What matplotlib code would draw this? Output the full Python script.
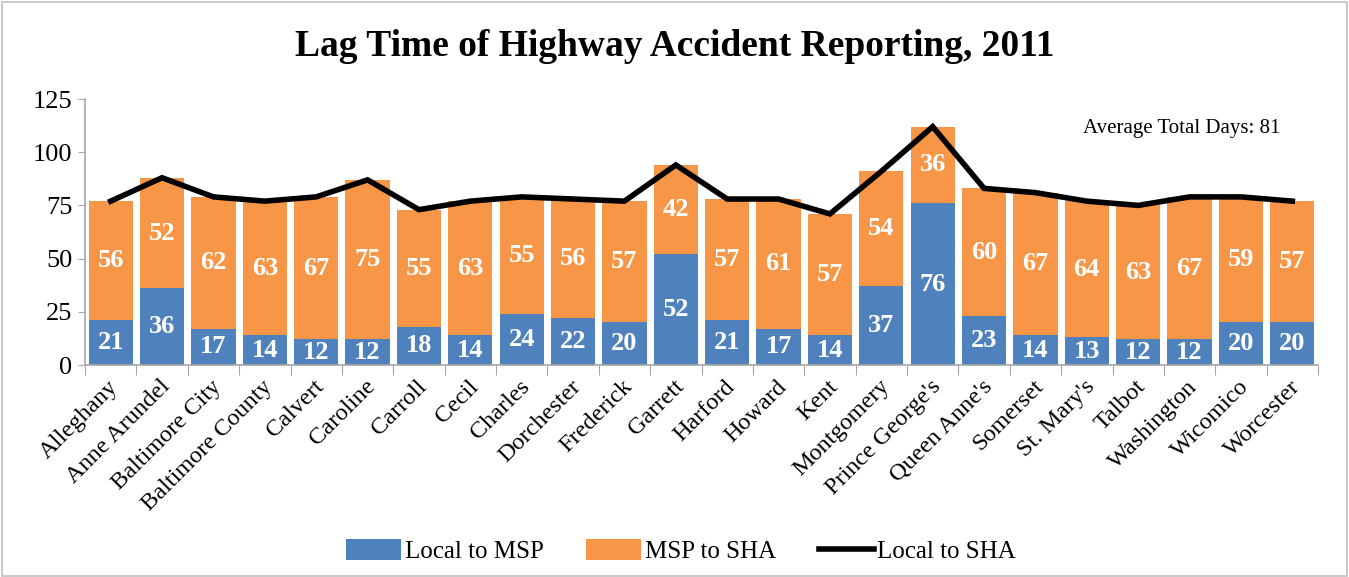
import matplotlib
matplotlib.use("Agg")
import matplotlib.pyplot as plt
import numpy as np
from matplotlib.patches import Rectangle, Patch
from matplotlib.lines import Line2D

plt.rcParams['font.family'] = ['Liberation Serif', 'DejaVu Serif']

counties = ["Alleghany", "Anne Arundel", "Baltimore City", "Baltimore County", "Calvert",
            "Caroline", "Carroll", "Cecil", "Charles", "Dorchester", "Frederick", "Garrett",
            "Harford", "Howard", "Kent", "Montgomery", "Prince George's", "Queen Anne's",
            "Somerset", "St. Mary's", "Talbot", "Washington", "Wicomico", "Worcester"]
local_to_msp = [21, 36, 17, 14, 12, 12, 18, 14, 24, 22, 20, 52, 21, 17, 14, 37, 76, 23, 14, 13, 12, 12, 20, 20]
msp_to_sha = [56, 52, 62, 63, 67, 75, 55, 63, 55, 56, 57, 42, 57, 61, 57, 54, 36, 60, 67, 64, 63, 67, 59, 57]
local_to_sha = [77, 88, 79, 77, 79, 87, 73, 77, 79, 78, 77, 94, 78, 78, 71, 91, 112, 83, 81, 77, 75, 79, 79, 77]
y_ticks = [0, 25, 50, 75, 100, 125]

BLUE = "#4F81BD"
ORANGE = "#F79646"
GRAY = "#A6A6A6"

fig = plt.figure(figsize=(13.49, 5.77), dpi=100)
ax = fig.add_axes([85/1349, 1-365/577, (1318-85)/1349, (365-99)/577])

x = np.arange(len(counties))
w = 0.86
ax.bar(x, local_to_msp, width=w, color=BLUE, zorder=2)
ax.bar(x, msp_to_sha, width=w, bottom=local_to_msp, color=ORANGE, zorder=2)
ax.plot(x, local_to_sha, color="black", lw=4, solid_joinstyle="miter", zorder=3)

for i in range(len(counties)):
    ax.text(x[i], local_to_msp[i] / 2, str(local_to_msp[i]), ha="center", va="center",
            color="white", fontsize=19, fontweight="bold", zorder=4)
    ax.text(x[i], local_to_msp[i] + msp_to_sha[i] / 2, str(msp_to_sha[i]), ha="center",
            va="center", color="white", fontsize=19, fontweight="bold", zorder=4)

ax.set_xlim(-0.5, len(counties) - 0.5)
ax.set_ylim(0, 125)
ax.set_yticks(y_ticks)
ax.set_yticklabels([str(t) for t in y_ticks], fontsize=19)
ax.set_xticks(np.arange(-0.5, len(counties), 1.0))
ax.set_xticklabels([])
ax.tick_params(axis="x", length=7, color=GRAY, direction="out")
ax.tick_params(axis="y", length=5, color=GRAY, direction="out", pad=4)
for s in ["top", "right"]:
    ax.spines[s].set_visible(False)
for s in ["left", "bottom"]:
    ax.spines[s].set_color(GRAY)
    ax.spines[s].set_linewidth(1.2)

for i, name in enumerate(counties):
    ax.annotate(name, xy=(x[i], 0), xycoords=("data", "data"), xytext=(-2, -8),
                textcoords="offset points", rotation=45, ha="right", va="top",
                rotation_mode="anchor", fontsize=17.5)

ax.text(1280/1349, 1-128/577, "Average Total Days: 81", transform=fig.transFigure,
        ha="right", va="center", fontsize=15)

fig.text(0.5, 1-47/577, "Lag Time of Highway Accident Reporting, 2011", ha="center",
         va="center", fontsize=27, fontweight="bold")

handles = [Patch(facecolor=BLUE, edgecolor="none"), Patch(facecolor=ORANGE, edgecolor="none"),
           Line2D([0], [0], color="black", lw=4)]
labels = ["Local to MSP", "MSP to SHA", "Local to SHA"]
fig.legend(handles, labels, loc="center", bbox_to_anchor=(681/1349, 1-551/577), ncol=3,
           frameon=False, fontsize=18, handlelength=2.2, handleheight=0.9,
           columnspacing=1.7, handletextpad=0.15)

fig.patches.append(Rectangle((2/1349, 1/577), 1 - 4/1349, 1 - 3/577, transform=fig.transFigure,
                             fill=False, edgecolor="#BFBFBF", lw=1.2))

fig.savefig("out.png", dpi=100)
